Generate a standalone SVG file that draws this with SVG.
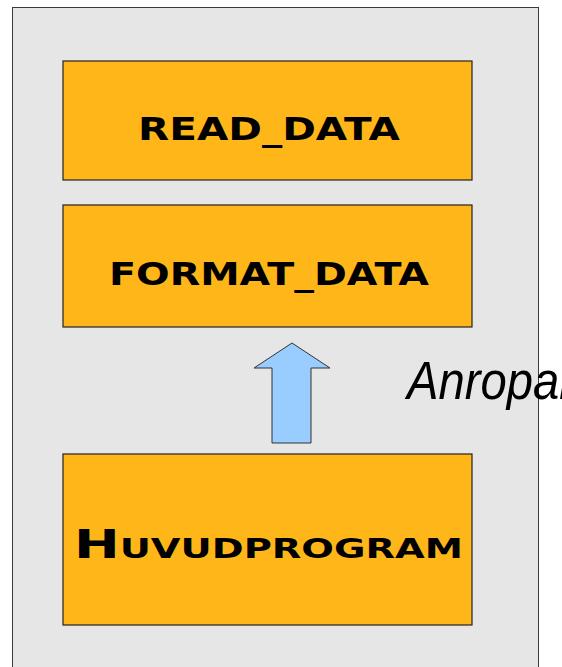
<svg xmlns="http://www.w3.org/2000/svg" width="562" height="667" viewBox="0 0 562 667">
<style>
.panel{fill:#e6e6e6;stroke:#3a3a3a;stroke-width:1}
.box{fill:#ffb619;stroke:#222;stroke-width:1.2}
.lbl{font-family:"DejaVu Sans",sans-serif;font-weight:bold;fill:#000}
.arrow{fill:#99ccff;stroke:#333;stroke-width:1}
.note{font-family:"Liberation Sans",Arial,sans-serif;font-style:italic;fill:#000}
</style>
<rect class="panel" x="12.5" y="7.5" width="526" height="670"/>
<g id="read_data">
<rect class="box" x="63" y="61" width="409" height="119"/>
<text class="lbl" x="138" y="140" font-size="31.5" textLength="262" lengthAdjust="spacingAndGlyphs">READ_DATA</text>
</g>
<g id="format_data">
<rect class="box" x="63" y="205" width="409" height="122"/>
<text class="lbl" x="109" y="285" font-size="31.5" textLength="320" lengthAdjust="spacingAndGlyphs">FORMAT_DATA</text>
</g>
<g id="huvudprogram">
<rect class="box" x="63" y="454" width="409" height="171"/>
<text class="lbl" x="74" y="558" font-size="38.4" textLength="389" lengthAdjust="spacingAndGlyphs" style="font-variant:small-caps">Huvudprogram</text>
</g>
<g id="connectors">
<polygon class="arrow" points="292,343 330,368 311,368 311,443 272,443 272,368 254,368"/>
</g>
<g id="label_anropar">
<text class="note" x="407" y="399" font-size="53" textLength="168" lengthAdjust="spacingAndGlyphs">Anropar</text>
</g>
</svg>
